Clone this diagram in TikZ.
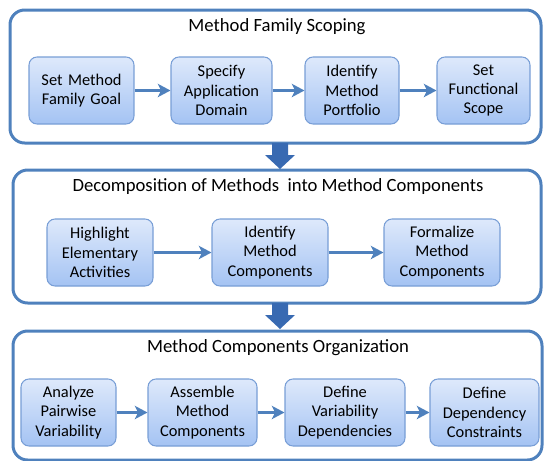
\documentclass[tikz,border=0pt]{standalone}
\usepackage{fontspec}
\setmainfont{Carlito}
\usetikzlibrary{arrows.meta}
\definecolor{frameblue}{RGB}{79,129,189}
\definecolor{boxtop}{RGB}{222,233,251}
\definecolor{boxbottom}{RGB}{164,195,243}
\definecolor{boxline}{RGB}{120,158,214}
\definecolor{bigarrow}{RGB}{56,106,178}

\begin{document}
\begin{tikzpicture}[x=0.75pt,y=-0.75pt,
  frame/.style 2 args={draw=frameblue, line width=2.25pt, rounded corners=11pt,
    minimum width=#1*0.75pt, minimum height=#2*0.75pt, inner sep=0pt},
  stepbox/.style={draw=boxline, line width=0.8pt, rounded corners=6pt,
    top color=boxtop, bottom color=boxbottom, align=center, inner sep=0pt,
    minimum height=67*0.75pt, text width=#1*0.75pt, minimum width=#1*0.75pt,
    font=\fontsize{12.3}{14.4}\selectfont},
  title/.style={font=\fontsize{14}{16}\selectfont},
  flow/.style={draw=frameblue, line width=2.25pt, -{Stealth[length=9.5pt,width=10pt,inset=2.5pt]}},
  ]

  \useasboundingbox (0,0) rectangle (544,461);

  % Draw the frames
  \node[frame={531}{133}] (scope) at (275.5,76.5) {};
  \node[frame={528}{133}] (decomp) at (277,236.5) {};
  \node[frame={529}{129}] (organize) at (277.5,395.5) {};

  % Frame titles
  \node[title] (scopetitle) at (277,27) {Method Family Scoping};
  \node[title] (decomptitle) at (278,187) {Decomposition of Methods\ \ into Method Components};
  \node[title] (organizetitle) at (278,348) {Method Components Organization};

  % Big arrows between the frames
  \coordinate (down1) at (280,143);
  \coordinate (down2) at (280,303);
  \fill[bigarrow] (down1) ++(-8,0) -- ++(0,12) -- ++(-7,0) -- ++(15,14) -- ++(15,-14) -- ++(-7,0) -- ++(0,-12) -- cycle;
  \fill[bigarrow] (down2) ++(-8,0) -- ++(0,12) -- ++(-7,0) -- ++(15,14) -- ++(15,-14) -- ++(-7,0) -- ++(0,-12) -- cycle;

  % Draw the boxes of the first frame
  \node[stepbox=105] (goal) at (81.5,90.5) {Set Method\\Family Goal};
  \node[stepbox=101] (domain) at (221.5,90.5) {Specify\\Application\\Domain};
  \node[stepbox=94] (portfolio) at (352,90.5) {Identify\\Method\\Portfolio};
  \node[stepbox=93] (functional) at (483.5,90.5) {Set\\Functional\\Scope};

  % Draw the boxes of the second frame
  \node[stepbox=106] (highlight) at (100,252.5) {Highlight\\Elementary\\Activities};
  \node[stepbox=116] (identify) at (270,252.5) {Identify\\Method\\Components};
  \node[stepbox=116] (formalize) at (442,252.5) {Formalize\\Method\\Components};

  % Draw the boxes of the third frame
  \node[stepbox=95] (analyze) at (68.5,412.5) {Analyze\\Pairwise\\Variability};
  \node[stepbox=109] (assemble) at (202.5,412.5) {Assemble\\Method\\Components};
  \node[stepbox=120] (vardep) at (345,412.5) {Define\\Variability\\Dependencies};
  \node[stepbox=109] (constraints) at (484.5,412.5) {Define\\Dependency\\Constraints};

  % Connect the boxes
  \draw[flow] (goal) -- (domain);
  \draw[flow] (domain) -- (portfolio);
  \draw[flow] (portfolio) -- (functional);
  \draw[flow] (highlight) -- (identify);
  \draw[flow] (identify) -- (formalize);
  \draw[flow] (analyze) -- (assemble);
  \draw[flow] (assemble) -- (vardep);
  \draw[flow] (vardep) -- (constraints);

\end{tikzpicture}
\end{document}
